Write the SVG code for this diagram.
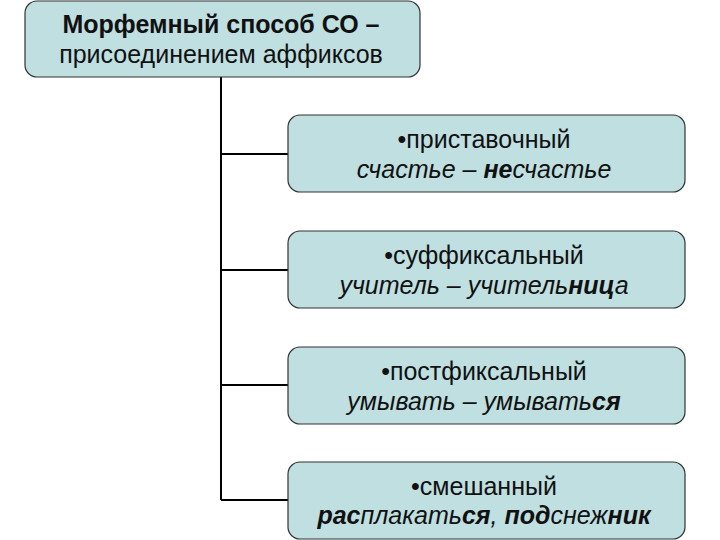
<svg xmlns="http://www.w3.org/2000/svg" width="720" height="540" viewBox="0 0 720 540">
<style>
.box{fill:#BFDFE1;stroke:#333;stroke-width:1.2}
.t{font-family:"Liberation Sans",Arial,sans-serif;font-size:25px;fill:#111;text-anchor:middle}
.b{font-weight:bold}
.i{font-style:italic}
.c{stroke:#000;stroke-width:2;fill:none}
</style>
<rect width="720" height="540" fill="#fff"/>
<g id="connectors">
<path class="c" d="M221 77V500M221 154H288M221 270H288M221 385H288M221 500H288"/>
</g>
<g id="root">
<rect class="box" x="25" y="1" width="395" height="76" rx="12"/>
<text class="t b" x="221" y="33">Морфемный способ СО –</text>
<text class="t" x="221" y="63">присоединением аффиксов</text>
</g>
<g id="n1">
<rect class="box" x="288" y="115" width="397" height="77" rx="12"/>
<text class="t" x="484" y="148">•приставочный</text>
<text class="t i" x="484" y="178">счастье – <tspan class="b">не</tspan>счастье</text>
</g>
<g id="n2">
<rect class="box" x="288" y="231" width="397" height="77" rx="12"/>
<text class="t" x="484" y="264">•суффиксальный</text>
<text class="t i" x="484" y="294">учитель – учитель<tspan class="b">ниц</tspan>а</text>
</g>
<g id="n3">
<rect class="box" x="288" y="347" width="397" height="77" rx="12"/>
<text class="t" x="484" y="380">•постфиксальный</text>
<text class="t i" x="484" y="410">умывать – умывать<tspan class="b">ся</tspan></text>
</g>
<g id="n4">
<rect class="box" x="288" y="462" width="397" height="77" rx="12"/>
<text class="t" x="484" y="495">•смешанный</text>
<text class="t i" x="484" y="524"><tspan class="b">рас</tspan>плакать<tspan class="b">ся</tspan>, <tspan class="b">под</tspan>снеж<tspan class="b">ник</tspan></text>
</g>
</svg>
